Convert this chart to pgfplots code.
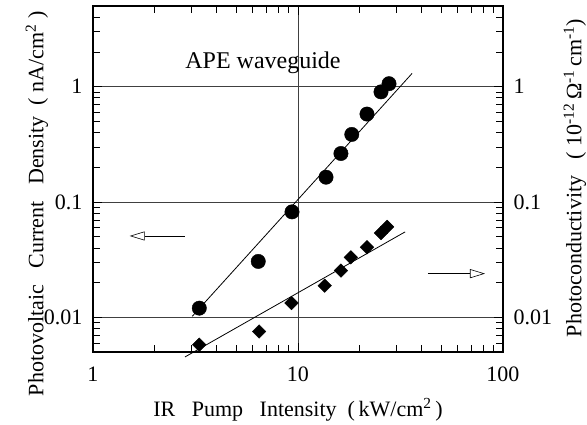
\documentclass[border=0pt]{standalone}
\usepackage{pgfplots}
\pgfplotsset{compat=1.18}
\usepackage{fontspec}
\setmainfont{Liberation Serif}
\usetikzlibrary{arrows.meta}
\begin{document}
\begin{tikzpicture}
\useasboundingbox (-93pt,-73pt) rectangle (494pt,352pt);
\begin{axis}[
  at={(0,0)}, anchor=south west, scale only axis, width=410pt, height=346pt,
  xmode=log, ymode=log, xmin=1, xmax=100, ymin=0.005, ymax=5,
  ytick={0.01,0.1,1}, yticklabels={0.01,0.1,1},
  minor ytick={0.006,0.007,0.008,0.009,0.02,0.03,0.04,0.05,0.06,0.07,0.08,0.09,0.2,0.3,0.4,0.5,0.6,0.7,0.8,0.9,2,3,4,5},
  tick align=inside,
  major tick length=9pt, minor tick length=7pt,
  axis line style={line width=1.3pt},
  every tick/.style={black, line width=0.6pt},
  font=\fontsize{22}{25}\selectfont,
  /pgf/number format/assume math mode=true,
  xtick={1,10,100}, xticklabels={1,10,100},
  minor xtick={2,3,4,5,6,7,8,9,20,30,40,50,60,70,80,90},
  yticklabel pos=left,
  xmajorgrids, ymajorgrids,
  major grid style={black!75, line width=0.7pt},
  xticklabel style={yshift=-11pt, font=\fontsize{22}{24}\selectfont},
  yticklabel style={xshift=-7pt, font=\fontsize{22}{24}\selectfont},
  xlabel={IR\ \ \ Pump\ \ \ Intensity\ \ (\,kW/cm\textsuperscript{2}\,)},
  ylabel={Photovoltaic\ \ \ Current\ \ \ Density\ \ (\ nA/cm\textsuperscript{2}\ )},
  xlabel style={at={(axis description cs:0.5,0)}, anchor=center, yshift=-58pt},
  ylabel style={at={(axis description cs:0,0.428)}, anchor=center, yshift=56pt},
  clip=false,
]
\addplot[only marks, mark=*, mark size=7.2pt, black] coordinates {
(3.3,0.012) (6.4,0.0305) (9.35,0.082) (13.7,0.164) (16.2,0.263) (18.3,0.385) (21.7,0.578) (25.4,0.90) (27.8,1.06)
};
\addplot[no marks, black, line width=0.8pt] coordinates {(3.05,0.0102) (36,1.30)};
\addplot[only marks, mark=square*, mark options={rotate=45}, mark size=4.8pt, black] coordinates {
(3.3,0.00578) (6.46,0.00753) (9.3,0.0133) (13.5,0.0188) (16.2,0.0254) (18.1,0.0331) (21.7,0.0405) (25.4,0.0538) (27.2,0.0608)
};
\addplot[no marks, black, line width=0.8pt] coordinates {(2.81,0.00453) (33.3,0.055)};
\draw[line width=0.6pt, -{Triangle[open, length=15pt, width=9pt]}] (axis cs:2.81,0.0507) -- (axis cs:1.51,0.0507);
\draw[line width=0.6pt, -{Triangle[open, length=15pt, width=9pt]}] (axis cs:43,0.0239) -- (axis cs:81.7,0.0239);
\node[font=\fontsize{24}{27}\selectfont] at (axis cs:6.75,1.6) {APE waveguide};
\end{axis}
\begin{axis}[
  at={(0,0)}, anchor=south west, scale only axis, width=410pt, height=346pt,
  xmode=log, ymode=log, xmin=1, xmax=100, ymin=0.005, ymax=5,
  ytick={0.01,0.1,1}, yticklabels={0.01,0.1,1},
  minor ytick={0.006,0.007,0.008,0.009,0.02,0.03,0.04,0.05,0.06,0.07,0.08,0.09,0.2,0.3,0.4,0.5,0.6,0.7,0.8,0.9,2,3,4,5},
  tick align=inside,
  major tick length=9pt, minor tick length=7pt,
  axis line style={line width=1.3pt},
  every tick/.style={black, line width=0.6pt},
  font=\fontsize{22}{25}\selectfont,
  /pgf/number format/assume math mode=true,
  hide x axis, axis y line*=right,
  yticklabel style={xshift=7pt, font=\fontsize{22}{24}\selectfont},
  ylabel={Photoconductivity\ \ \ (\ 10\textsuperscript{-12}\,Ω\textsuperscript{-1}\,cm\textsuperscript{-1})},
  ylabel style={at={(axis description cs:1,0.503)}, anchor=center, yshift=-72pt},
]
\addplot[draw=none] coordinates {(2,0.1)};
\end{axis}
\end{tikzpicture}
\end{document}
